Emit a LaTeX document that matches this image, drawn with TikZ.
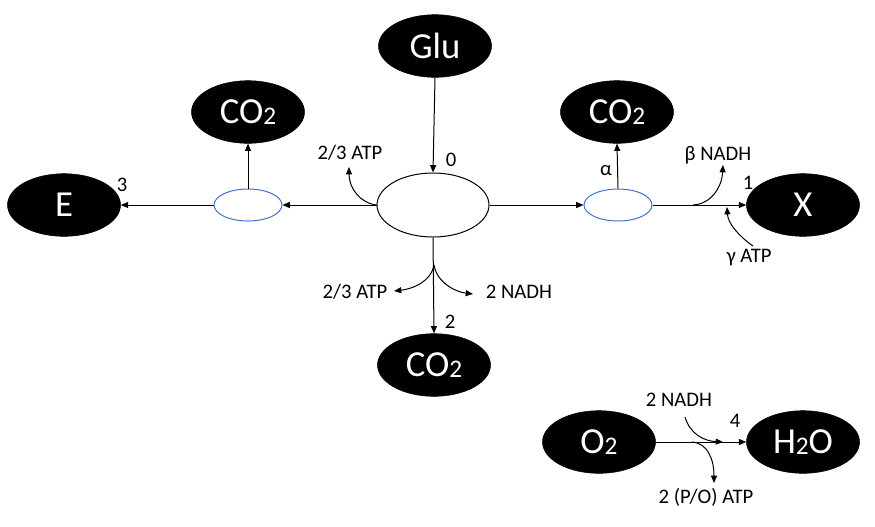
\documentclass[tikz,border=0pt]{standalone}
\usepackage{fontspec}
\setmainfont{Carlito}
\usetikzlibrary{shapes.geometric,arrows.meta}
\newcommand{\subtwo}{\raisebox{-0.5pt}{\fontsize{19}{19}\selectfont 2}}
\begin{document}
\begin{tikzpicture}[x=0.75pt,y=-0.75pt,
  big/.style={ellipse,fill=black,draw=black,minimum width=84.75pt,minimum height=47pt,inner sep=0pt,text=white,font=\fontsize{27.5}{27.5}\selectfont},
  hub/.style={ellipse,draw=black,line width=0.75pt,fill=white,minimum width=84pt,minimum height=48pt,inner sep=0pt},
  small/.style={ellipse,draw={rgb,255:red,68;green,114;blue,196},line width=0.75pt,minimum width=51pt,minimum height=24pt,inner sep=0pt},
  lbl/.style={font=\fontsize{15.5}{15.5}\selectfont,inner sep=0pt},
  arr/.style={line width=0.75pt,-{Triangle[length=5.5pt,width=4.5pt]}},
  ln/.style={line width=0.75pt}]
\useasboundingbox (0,0) rectangle (875,526);
% nodes
\node[big] (glu) at (435,46) {Glu};
\node[big] (co2l) at (248,112) {CO\subtwo};
\node[big] (co2r) at (617,112) {CO\subtwo};
\node[big] (e) at (64,205) {E};
\node[big] (x) at (803,205) {X};
\node[big] (co2b) at (434,365) {CO\subtwo};
\node[big] (o2) at (599,442) {O\subtwo};
\node[big] (h2o) at (803,442) {H\subtwo O};
\node[hub] (hub) at (433,205) {};
\node[small] (sl) at (248,205) {};
\node[small] (sr) at (618,205) {};
% coordinates
\coordinate (bsplit) at (434,265);
\coordinate (atpt) at (349,167);
\coordinate (atpbl) at (394,291);
\coordinate (nadhb) at (473,294);
\coordinate (bsr) at (693,205);
\coordinate (nadht) at (723,165);
\coordinate (gstart) at (753,246);
\coordinate (gend) at (727,207);
\coordinate (ns) at (685,417);
\coordinate (ne) at (723,442);
\coordinate (ps) at (692,442);
\coordinate (pe) at (714,483);
% straight connectors
\draw[arr] (glu.south) -- (hub.north);
\draw[arr] (hub.south) -- (co2b.north);
\draw[arr] (hub.west) -- (sl.east);
\draw[arr] (sl.west) -- (e.east);
\draw[arr] (sl.north) -- (co2l.south);
\draw[arr] (hub.east) -- (sr.west);
\draw[arr] (sr.north) -- (co2r.south);
\draw[arr] (sr.east) -- (x.west);
\draw[arr] (o2.east) -- (h2o.west);
% curved branches
\draw[arr] (hub.west) .. controls (360,203) and (349,188) .. (atpt);
\draw[arr] (bsplit) .. controls (431,282) and (412,289) .. (atpbl);
\draw[arr] (bsplit) .. controls (437,283) and (456,292) .. (nadhb);
\draw[arr] (bsr) .. controls (712,204) and (722,186) .. (nadht);
\draw[arr] (gstart) .. controls (740,237) and (728,224) .. (gend);
\draw[arr] (ns) .. controls (690,434) and (704,441) .. (ne);
\draw[arr] (ps) .. controls (708,443) and (714,460) .. (pe);
% labels
\node[lbl] (l0) at (451,160) {0};
\node[lbl] (latpt) at (350,153) {2/3 ATP};
\node[lbl] (lalpha) at (606,171) {α};
\node[lbl] (lbeta) at (718,155) {β NADH};
\node[lbl] (l1) at (748,183) {1};
\node[lbl] (lgamma) at (749,258) {γ ATP};
\node[lbl] (l3) at (122,185) {3};
\node[lbl] (latpb) at (355,292) {2/3 ATP};
\node[lbl] (lnadhb) at (519,292) {2 NADH};
\node[lbl] (l2) at (450,322) {2};
\node[lbl] (lnadho) at (679,400) {2 NADH};
\node[lbl] (l4) at (735,421) {4};
\node[lbl] (lpo) at (706,497) {2 (P/O) ATP};
\end{tikzpicture}
\end{document}
